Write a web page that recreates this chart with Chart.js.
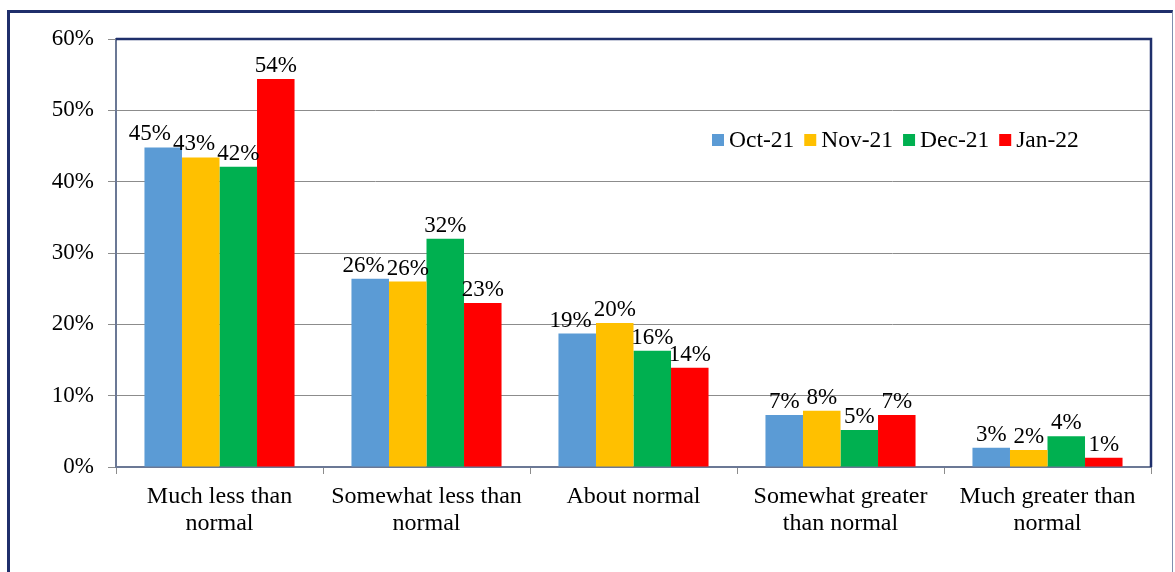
<!DOCTYPE html>
<html>
<head>
<meta charset="utf-8">
<script src="https://cdn.jsdelivr.net/npm/chart.js@4"></script>
<style>
  html, body { margin: 0; padding: 0; background: #fff; overflow: hidden; }
  #frame { position: absolute; left: 7px; top: 10px; width: 1162px; height: 600px;
           border-left: 3px solid #1f2f6b; border-top: 3px solid #1f2f6b; border-right: 1px solid #7f8fae; }
  #wrap { position: absolute; left: 0; top: 0; width: 1175px; height: 572px; }
</style>
</head>
<body>
<div id="frame"></div>
<div id="wrap"><canvas id="chart"></canvas></div>
<script>
// categories and values (percent)
const categories = [
  ["Much less than", "normal"],
  ["Somewhat less than", "normal"],
  ["About normal"],
  ["Somewhat greater", "than normal"],
  ["Much greater than", "normal"]
];
const seriesNames = ["Oct-21", "Nov-21", "Dec-21", "Jan-22"];
const oct21 = [44.8, 26.4, 18.7, 7.3, 2.7];
const nov21 = [43.4, 26.0, 20.2, 7.9, 2.4];
const dec21 = [42.1, 32.0, 16.3, 5.2, 4.3];
const jan22 = [54.4, 23.0, 13.9, 7.3, 1.3];
const seriesColors = ["#5B9BD5", "#FFC000", "#00B050", "#FF0000"];

const FONT = "'Liberation Serif', 'Times New Roman', serif";

// value labels above the bars, nudged left when they collide
const barLabels = {
  id: 'barLabels',
  afterDatasetsDraw(chart) {
    const ctx = chart.ctx;
    ctx.save();
    ctx.font = "23px " + FONT;
    ctx.fillStyle = "#000";
    ctx.textAlign = "left";
    ctx.textBaseline = "alphabetic";
    const n = chart.data.labels.length;
    for (let c = 0; c < n; c++) {
      const boxes = [];
      chart.data.datasets.forEach((ds, i) => {
        const el = chart.getDatasetMeta(i).data[c];
        const text = Math.round(ds.data[c]) + "%";
        const w = ctx.measureText(text).width;
        const base = el.y - 7;
        boxes.push({ text, w, x: el.x - w / 2, base, top: base - 17 });
      });
      for (let i = boxes.length - 2; i >= 0; i--) {
        const a = boxes[i], b = boxes[i + 1];
        const vOverlap = a.base > b.top && b.base > a.top;
        if (vOverlap && a.x + a.w > b.x - 2) a.x = b.x - 2 - a.w;
      }
      boxes.forEach(b => ctx.fillText(b.text, b.x, b.base));
    }
    ctx.restore();
  }
};

// plot frame (navy top/right) and legend inside the plot
const frameAndLegend = {
  id: 'frameAndLegend',
  afterDraw(chart) {
    const ctx = chart.ctx;
    const a = chart.chartArea;
    ctx.save();
    ctx.strokeStyle = "#1f2f6b";
    ctx.lineWidth = 2.5;
    ctx.beginPath();
    ctx.moveTo(a.left, a.top);
    ctx.lineTo(a.right, a.top);
    ctx.lineTo(a.right, a.bottom);
    ctx.stroke();

    ctx.font = "23.5px " + FONT;
    ctx.textBaseline = "middle";
    let x = a.left + 596;
    const y = a.top + 101;
    chart.data.datasets.forEach(ds => {
      ctx.fillStyle = ds.backgroundColor;
      ctx.fillRect(x, y - 6, 12, 12);
      ctx.fillStyle = "#000";
      ctx.fillText(ds.label, x + 17, y + 1);
      x += 17 + ctx.measureText(ds.label).width + 10;
    });
    ctx.restore();
  }
};

const seriesValues = [oct21, nov21, dec21, jan22];

new Chart(document.getElementById('chart'), {
  type: 'bar',
  data: {
    labels: categories,
    datasets: seriesNames.map((name, i) => ({
      label: name,
      data: seriesValues[i],
      backgroundColor: seriesColors[i],
      categoryPercentage: 0.725,
      barPercentage: 1.0
    }))
  },
  options: {
    responsive: true,
    maintainAspectRatio: false,
    animation: false,
    layout: { padding: { top: 39, right: 24, left: 0, bottom: 0 } },
    plugins: {
      legend: { display: false },
      tooltip: { enabled: false }
    },
    scales: {
      x: {
        afterFit(scale) { scale.height = 105; },
        grid: { display: true, drawOnChartArea: false, drawTicks: true, tickLength: 7,
                offset: true, color: "#8c8c8c" },
        border: { color: "#6b7895", width: 2 },
        ticks: { color: "#000", font: { family: FONT, size: 24, lineHeight: 1.09 }, padding: 10,
                 maxRotation: 0, autoSkip: false }
      },
      y: {
        min: 0,
        max: 60,
        afterFit(scale) { scale.width = 116; },
        grid: { color: "#8c8c8c", tickLength: 8 },
        border: { color: "#6b7895", width: 2 },
        ticks: { stepSize: 10, color: "#000", font: { family: FONT, size: 23 }, padding: 14,
                 callback: v => v + "%" }
      }
    }
  },
  plugins: [barLabels, frameAndLegend]
});
</script>
</body>
</html>
